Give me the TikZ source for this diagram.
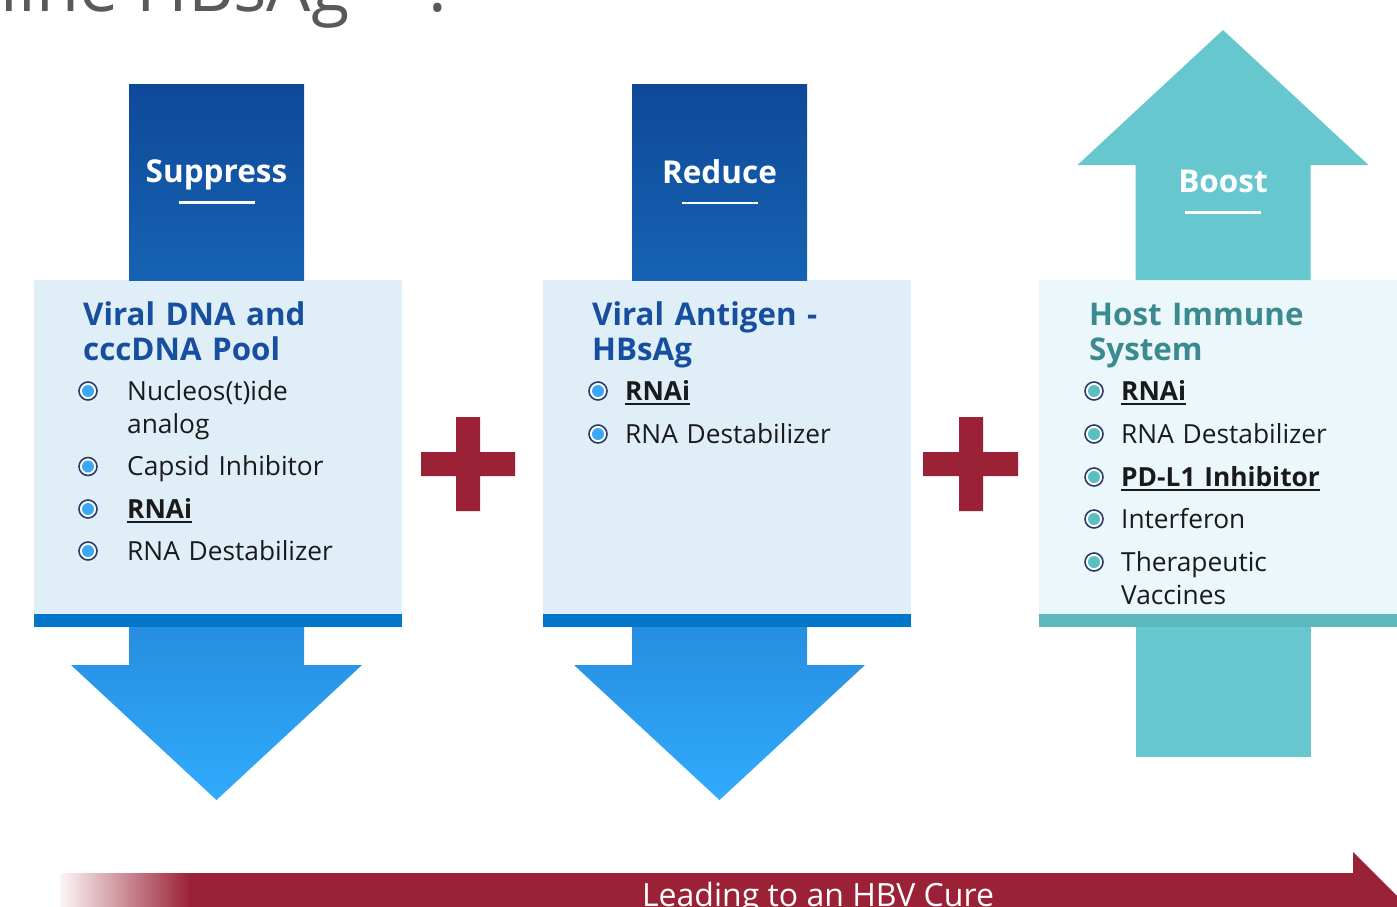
\documentclass[tikz,border=0pt]{standalone}
\usepackage{fontspec}
\setmainfont{Open Sans}
\usetikzlibrary{positioning,calc}

\definecolor{blunotte}{HTML}{0E4998}
\definecolor{bluscuro}{HTML}{1663B3}
\definecolor{cielo1}{HTML}{268EE0}
\definecolor{cielo2}{HTML}{31ABFC}
\definecolor{azzurrino}{HTML}{E0EEF8}
\definecolor{blubarra}{HTML}{0277C9}
\definecolor{blutitolo}{HTML}{164FA0}
\definecolor{acqua}{HTML}{66C7CF}
\definecolor{acquachiaro}{HTML}{EBF7FA}
\definecolor{acquabarra}{HTML}{5DB8BE}
\definecolor{acquatitolo}{HTML}{3B8A90}
\definecolor{rosso}{HTML}{9B2236}
\definecolor{anello}{HTML}{2A3B66}
\definecolor{puntoblu}{HTML}{3AA8F7}
\definecolor{puntoacqua}{HTML}{5BBEC2}
\definecolor{testo}{HTML}{1A1A1A}
\definecolor{grigio}{HTML}{58595B}

% sottolineatura spessa
\newcommand{\sott}[1]{\setbox0=\hbox{#1}\rlap{\rule[-4.5pt]{\wd0}{1.8pt}}\box0}

\begin{document}
\begin{tikzpicture}[x=1pt, y=-1pt,
    scatola/.style={rectangle, fill=#1, minimum width=368, minimum height=334, inner sep=0pt, outer sep=0pt},
    barra/.style={rectangle, fill=#1, minimum width=368, minimum height=13, inner sep=0pt, outer sep=0pt},
    testata/.style={rectangle, top color=blunotte, bottom color=bluscuro, minimum width=175, minimum height=196, inner sep=0pt, outer sep=0pt},
    etichetta/.style={text=white, align=center, inner sep=0pt, font=\fontsize{31.5}{21}\selectfont\bfseries},
    titolo/.style={anchor=base west, text width=320, align=left, inner sep=0pt, text=#1, font=\fontsize{31.3}{35}\selectfont\bfseries},
    voce/.style={anchor=base west, text width=260, align=left, inner sep=0pt, text=testo, font=\fontsize{26.3}{33}\selectfont},
    punto/.style={circle, draw=anello, line width=1.6pt, fill=white, minimum size=18, inner sep=0pt,
        path picture={\fill[#1] (path picture bounding box.center) circle (6pt);}},
    giu/.style={top color=cielo1, bottom color=cielo2}
]
    \useasboundingbox[fill=white] (0,0) rectangle (1397,906);

    % Titolo tagliato in alto
    \node[anchor=base west, inner sep=0pt, text=grigio, font=\fontsize{70}{74}\selectfont] (titolo) at (0.5,11) {line HBsAg\hspace{76pt}?};

    % Riquadri delle tre colonne
    \node[scatola=azzurrino, anchor=north west] (boxA) at (34,280) {};
    \node[scatola=azzurrino, right=141pt of boxA] (boxB) {};
    \node[scatola=acquachiaro, right=128pt of boxB] (boxC) {};
    \node[barra=blubarra, below=0pt of boxA] (barA) {};
    \node[barra=blubarra, below=0pt of boxB] (barB) {};
    \node[barra=acquabarra, below=0pt of boxC] (barC) {};

    % Testate e frecce
    \node[testata, above=0pt of boxA, xshift=-1.5pt] (hdrA) {};
    \node[testata, above=0pt of boxB, xshift=-7.5pt] (hdrB) {};
    \node[etichetta] (labA) at (hdrA) {Suppress\\\rule{76pt}{2.5pt}};
    \node[etichetta] (labB) at (hdrB) {Reduce\\\rule{76pt}{2.5pt}};

    \shade[giu] (hdrA.south west |- barA.south) -- ++(0,38) -- ++(-58,0) -- ++(145.5,135)
        -- ++(145.5,-135) -- ++(-58,0) -- (hdrA.south east |- barA.south) -- cycle;
    \shade[giu] (hdrB.south west |- barB.south) -- ++(0,38) -- ++(-58,0) -- ++(145.5,135)
        -- ++(145.5,-135) -- ++(-58,0) -- (hdrB.south east |- barB.south) -- cycle;

    \fill[acqua] (boxC.north) ++(-87.5,0) -- ++(0,-115) -- ++(-58,0) -- ++(145.5,-135)
        -- ++(145.5,135) -- ++(-58,0) -- ++(0,115) -- cycle;
    \fill[acqua] (barC.south) ++(-87.5,0) rectangle ++(175,130);
    \node[etichetta] (labC) at ($(boxC.north)+(0,-88)$) {Boost\\\rule{76pt}{2.5pt}};

    % Titoli dei riquadri
    \node[titolo=blutitolo] (titA) at (83,325) {Viral DNA and\\cccDNA Pool};
    \node[titolo=blutitolo] (titB) at (592,325) {Viral Antigen -\\HBsAg};
    \node[titolo=acquatitolo] (titC) at (1089,325) {Host Immune\\System};

    % Voci
    \node[voce] (vA1) at (127,400) {Nucleos(t)ide\\analog};
    \node[voce] (vA2) at (127,475.5) {Capsid Inhibitor};
    \node[voce] (vA3) at (127,518) {\sott{\textbf{RNAi}}};
    \node[voce] (vA4) at (127,560) {RNA Destabilizer};

    \node[voce] (vB1) at (625,400) {\sott{\textbf{RNAi}}};
    \node[voce] (vB2) at (625,443) {RNA Destabilizer};

    \node[voce] (vC1) at (1121,400) {\sott{\textbf{RNAi}}};
    \node[voce] (vC2) at (1121,443) {RNA Destabilizer};
    \node[voce] (vC3) at (1121,486) {\sott{\textbf{PD-L1 Inhibitor}}};
    \node[voce] (vC4) at (1121,528) {Interferon};
    \node[voce] (vC5) at (1121,571) {Therapeutic\\Vaccines};

    % Punti elenco
    \node[punto=puntoblu] at ([shift={(-39,-9)}]vA1.base west) {};
    \node[punto=puntoblu] at ([shift={(-39,-9)}]vA2.base west) {};
    \node[punto=puntoblu] at ([shift={(-39,-9)}]vA3.base west) {};
    \node[punto=puntoblu] at ([shift={(-39,-9)}]vA4.base west) {};
    \node[punto=puntoblu] at ([shift={(-27,-9)}]vB1.base west) {};
    \node[punto=puntoblu] at ([shift={(-27,-9)}]vB2.base west) {};
    \node[punto=puntoacqua] at ([shift={(-27,-9)}]vC1.base west) {};
    \node[punto=puntoacqua] at ([shift={(-27,-9)}]vC2.base west) {};
    \node[punto=puntoacqua] at ([shift={(-27,-9)}]vC3.base west) {};
    \node[punto=puntoacqua] at ([shift={(-27,-9)}]vC4.base west) {};
    \node[punto=puntoacqua] at ([shift={(-27,-9)}]vC5.base west) {};

    % Segni piu
    \fill[rosso] (456,417) rectangle (480,511) (421,452) rectangle (515,476);
    \fill[rosso] (959,417) rectangle (983,511) (923,452) rectangle (1018,476);

    % Freccia in basso
    \shade[left color=rosso!4, right color=rosso] (60,873) rectangle (190,931);
    \fill[rosso] (189.5,873) -- (1353,873) -- (1353,852) -- (1403,902) -- (1353,952)
        -- (1353,931) -- (189.5,931) -- cycle;
    \node[anchor=base, inner sep=0pt, text=white, font=\fontsize{32}{36}\selectfont] (cura) at (818,906) {Leading to an HBV Cure};
\end{tikzpicture}
\end{document}
